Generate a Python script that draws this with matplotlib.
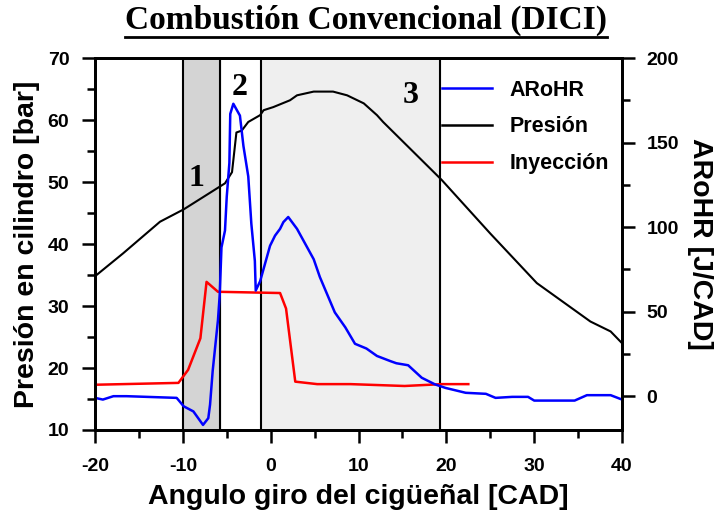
import numpy as np
import matplotlib
matplotlib.use("Agg")
import matplotlib.pyplot as plt
from matplotlib.lines import Line2D
from matplotlib.ticker import MultipleLocator

plt.rcParams['font.family'] = ['Liberation Sans', 'DejaVu Sans']
plt.rcParams['font.weight'] = 'bold'
plt.rcParams['axes.unicode_minus'] = False

# crank angle [CAD] and cylinder pressure [bar]
cad_p = [-20, -16.8, -12.6, -9.9, -5.2, -4.4, -3.9, -3.3, -2.55, -1.2, -0.8, 0.3,
         2.2, 3.0, 4.9, 7.1, 8.7, 10.6, 12.1, 12.8, 18.15, 19.5, 25.0, 30.3,
         36.4, 38.7, 40.0]
presion = [34.8, 38.5, 43.6, 45.6, 49.8, 51.6, 58.0, 58.3, 59.7, 60.8, 61.6, 62.1,
           63.2, 64.0, 64.6, 64.6, 64.0, 62.7, 60.8, 59.7, 52.2, 50.3, 41.7, 33.7,
           27.5, 25.9, 24.0]

# apparent rate of heat release [J/CAD]
cad_a = [-20, -19.1, -17.9, -16.4, -10.7, -9.9, -8.8, -7.7, -7.1, -6.9, -6.6, -6.3,
         -6.0, -5.8, -5.6, -5.2, -5.0, -4.7, -4.6, -4.25, -3.5, -3.1, -2.55, -2.2,
         -1.8, -1.7, -1.2, -0.07, 0.5, 1.07, 1.45, 2.0, 3.0, 4.9, 5.6, 7.3, 8.5,
         9.6, 10.9, 12.1, 13.6, 14.3, 15.65, 17.2, 18.7, 19.9, 22.2, 24.5, 25.6,
         27.5, 29.3, 30.0, 34.6, 36.0, 38.7, 40.0]
arohr = [-1, -2, 0, 0, -1, -6, -9, -17, -13, -5, 15, 30,
         45, 60, 88, 98, 118, 138, 167, 173, 166, 148, 130, 102,
         80, 62.5, 68, 89, 95, 99, 103, 106, 99, 81, 70.5, 49.6, 40.7,
         31, 28.2, 23.8, 20.8, 19.5, 18.3, 10.9, 7, 4.9, 2, 1.4, -1,
         -0.4, -0.4, -2.6, -2.6, 0.6, 0.6, -2]

# injection signal (left-axis scale)
cad_i = [-20, -10.5, -9.4, -8.0, -7.3, -6.0, 1.07, 1.75, 2.8, 5.3, 9.1, 15.25, 19.5, 22.5]
inyeccion = [17.3, 17.6, 19.7, 24.8, 33.9, 32.3, 32.1, 29.6, 17.8, 17.4, 17.4, 17.1, 17.4, 17.4]

# combustion phase limits and labels
limites = [-10, -5.8, -1.1, 19.3]
zonas = ['1', '2', '3']
zona_x = [-8.4, -3.5, 15.9]
zona_y = [50.6, 65.2, 64.0]

fig = plt.figure(figsize=(7.25, 5.19), dpi=100)
ax = fig.add_axes([0.131, 0.1715, 0.727, 0.7165])
ax2 = ax.twinx()

ax.axvspan(limites[0], limites[1], color='#d4d4d4', zorder=0)
ax.axvspan(limites[2], limites[3], color='#efefef', zorder=0)
for xl in limites:
    ax.axvline(xl, color='black', lw=1.5, zorder=1)

ax.plot(cad_i, inyeccion, color='#ff0000', lw=1.8, zorder=3)
ax.plot(cad_p, presion, color='black', lw=1.5, zorder=3)
ax2.plot(cad_a, arohr, color='#0000ff', lw=1.8)

for t, xx, yy in zip(zonas, zona_x, zona_y):
    ax.text(xx, yy, t, family='Liberation Serif', fontweight='bold', fontsize=23,
            ha='center', va='center', zorder=4)

ax.set_xlim(-20, 40)
ax.set_ylim(10, 70)
ax2.set_ylim(-20, 200)
ax.xaxis.set_major_locator(MultipleLocator(10))
ax.xaxis.set_minor_locator(MultipleLocator(5))
ax.yaxis.set_major_locator(MultipleLocator(10))
ax.yaxis.set_minor_locator(MultipleLocator(5))
ax2.yaxis.set_major_locator(MultipleLocator(50))
ax2.yaxis.set_minor_locator(MultipleLocator(25))

for a in (ax, ax2):
    for s in a.spines.values():
        s.set_linewidth(2)
    a.tick_params(which='major', length=9.5, width=1.8, labelsize=14)
    a.tick_params(which='minor', length=6, width=1.8)
ax.tick_params(axis='x', which='major', pad=11)
ax.tick_params(axis='y', which='major', pad=9)
ax2.tick_params(axis='y', which='major', pad=8)

ax.set_xlabel('Angulo giro del cigüeñal [CAD]', fontsize=20.5, fontweight='bold', va='center')
ax.xaxis.set_label_coords(0.5, -0.18)
ax.set_ylabel('Presión en cilindro [bar]', fontsize=20.5, fontweight='bold', va='center')
ax.yaxis.set_label_coords(-0.129, 0.5)
ax2.set_ylabel('ARoHR [J/CAD]', fontsize=20.5, fontweight='bold', rotation=270, va='center')
ax2.yaxis.set_label_coords(1.148, 0.5)

handles = [Line2D([], [], color='#0000ff', lw=1.8),
           Line2D([], [], color='black', lw=1.8),
           Line2D([], [], color='#ff0000', lw=1.8)]
ax2.legend(handles, ['ARoHR', 'Presión', 'Inyección'], loc='upper left',
           bbox_to_anchor=(0.658, 0.942), frameon=False, fontsize=15.5,
           handlelength=2.33, handletextpad=0.8, labelspacing=0.73,
           borderaxespad=0, borderpad=0)

titulo = fig.text(0.505, 0.96, 'Combustión Convencional (DICI)', family='Liberation Serif',
                  fontweight='bold', fontsize=24, ha='center', va='center')
fig.canvas.draw()
bb = titulo.get_window_extent().transformed(fig.transFigure.inverted())
fig.add_artist(Line2D([bb.x0, bb.x1], [bb.y0 - 0.002, bb.y0 - 0.002], color='black', lw=2,
                      transform=fig.transFigure))

fig.savefig('out.png', dpi=100)
